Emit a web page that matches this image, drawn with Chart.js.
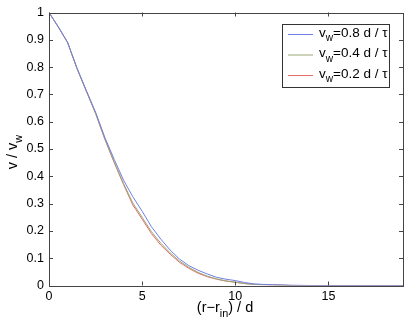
<!DOCTYPE html>
<html>
<head>
<meta charset="utf-8">
<script src="https://cdn.jsdelivr.net/npm/chart.js@4.4.0/dist/chart.umd.min.js"></script>
<style>
  html, body { margin: 0; padding: 0; background: #fff; }
  #wrap { width: 415px; height: 324px; }
</style>
</head>
<body>
<div id="wrap"><canvas id="c" width="415" height="324"></canvas></div>
<script>
// radial distance (r - r_in) / d
const xs = [0, 0.5, 1, 1.5, 2, 2.5, 3, 3.5, 4, 4.5, 5, 5.5, 6, 6.5, 7, 7.5, 8, 8.5, 9, 9.5,
  10, 10.5, 11, 11.5, 12, 12.5, 13, 14, 15, 16, 17, 18, 19];

// v / v_w for each wall velocity
const v08 = [1.0, 0.947, 0.89, 0.797, 0.715, 0.635, 0.542, 0.462, 0.386, 0.325, 0.272, 0.215, 0.17, 0.13,
  0.097, 0.073, 0.056, 0.042, 0.03, 0.023, 0.018, 0.011, 0.006, 0.004, 0.003, 0.002, 0.001, 0, 0, 0, 0, 0, 0];
const v04 = [1.0, 0.947, 0.89, 0.795, 0.713, 0.631, 0.537, 0.452, 0.374, 0.302, 0.25, 0.197, 0.155, 0.12,
  0.09, 0.067, 0.048, 0.034, 0.024, 0.017, 0.012, 0.007, 0.004, 0.003, 0.002, 0.001, 0, 0, 0, 0, 0, 0, 0];
const v02 = [1.0, 0.947, 0.89, 0.795, 0.712, 0.63, 0.535, 0.45, 0.37, 0.295, 0.243, 0.19, 0.148, 0.115,
  0.085, 0.063, 0.045, 0.032, 0.023, 0.016, 0.012, 0.007, 0.004, 0.003, 0.002, 0.001, 0, 0, 0, 0, 0, 0, 0];

const seriesLabels = ['0.8', '0.4', '0.2'];
const seriesColors = ['#6f80e4', '#98a878', '#e36e66'];
const xTicks = [0, 5, 10, 15];
const yTicks = [0, 0.1, 0.2, 0.3, 0.4, 0.5, 0.6, 0.7, 0.8, 0.9, 1];

const FONT = '"Liberation Sans", Arial, sans-serif';

function pts(ys) {
  return xs.map((x, i) => ({ x: x, y: ys[i] }));
}

// draws text with subscript parts, returns width
function subText(ctx, parts, x, y, size, measureOnly) {
  let w = 0;
  parts.forEach(p => {
    const s = p[1] ? size * 0.75 : size;
    ctx.font = s + 'px ' + FONT;
    if (!measureOnly) ctx.fillText(p[0], x + w, y + (p[1] ? size * 0.4 : 0));
    w += ctx.measureText(p[0]).width;
  });
  return w;
}

const extras = {
  id: 'extras',
  afterDatasetsDraw(chart) {
    const ctx = chart.ctx;
    const a = chart.chartArea;
    const sx = chart.scales.x, sy = chart.scales.y;
    ctx.save();
    ctx.strokeStyle = '#444';
    ctx.lineWidth = 1;
    ctx.strokeRect(Math.round(a.left) + 0.5, Math.round(a.top) + 0.5,
      Math.round(a.right - a.left), Math.round(a.bottom - a.top));
    // inward ticks
    ctx.beginPath();
    xTicks.forEach(t => {
      const px = Math.round(sx.getPixelForValue(t)) + 0.5;
      ctx.moveTo(px, a.bottom); ctx.lineTo(px, a.bottom - 4);
      ctx.moveTo(px, a.top); ctx.lineTo(px, a.top + 4);
    });
    yTicks.forEach(t => {
      const py = Math.round(sy.getPixelForValue(t)) + 0.5;
      ctx.moveTo(a.left, py); ctx.lineTo(a.left + 4, py);
      ctx.moveTo(a.right, py); ctx.lineTo(a.right - 4, py);
    });
    ctx.stroke();

    // legend
    ctx.fillStyle = '#fff';
    ctx.fillRect(282.5, 24.5, 107, 63);
    ctx.strokeStyle = '#333';
    ctx.strokeRect(282.5, 24.5, 107, 63);
    ctx.textBaseline = 'middle';
    ctx.textAlign = 'left';
    [34.5, 55, 75.5].forEach((yy, i) => {
      ctx.strokeStyle = seriesColors[i];
      ctx.beginPath();
      ctx.moveTo(288, yy); ctx.lineTo(313, yy);
      ctx.stroke();
      ctx.fillStyle = '#000';
      subText(ctx, [['v', 0], ['w', 1], ['=' + seriesLabels[i] + ' d / \u03c4', 0]], 319, yy - 1.5, 13.5);
    });

    // axis titles
    ctx.fillStyle = '#000';
    ctx.textBaseline = 'middle';
    const xParts = [['(r\u2212r', 0], ['in', 1], [') / d', 0]];
    const xw = subText(ctx, xParts, 0, 0, 14.5, true);
    subText(ctx, xParts, 225 - xw / 2, 308, 14.5);

    const yParts = [['v / v', 0], ['w', 1]];
    const yw = subText(ctx, yParts, 0, 0, 14.5, true);
    ctx.translate(13, 152);
    ctx.rotate(-Math.PI / 2);
    subText(ctx, yParts, -yw / 2, 0, 14.5);
    ctx.restore();
  }
};

new Chart(document.getElementById('c'), {
  type: 'line',
  data: {
    datasets: [
      { label: 'v_w=0.8 d / τ', data: pts(v08), borderColor: seriesColors[0] },
      { label: 'v_w=0.4 d / τ', data: pts(v04), borderColor: seriesColors[1] },
      { label: 'v_w=0.2 d / τ', data: pts(v02), borderColor: seriesColors[2] }
    ]
  },
  options: {
    responsive: false,
    animation: false,
    layout: { padding: { top: 11, right: 12, left: 0, bottom: 0 } },
    elements: {
      point: { radius: 0 },
      line: { borderWidth: 1, tension: 0 }
    },
    plugins: { legend: { display: false }, tooltip: { enabled: false } },
    scales: {
      x: {
        type: 'linear', min: 0, max: 19,
        grid: { display: false, drawTicks: false },
        border: { display: false },
        afterBuildTicks: s => { s.ticks = xTicks.map(v => ({ value: v })); },
        afterFit: s => { s.height = 38.5; },
        ticks: { padding: 4, color: '#000', font: { family: FONT, size: 12.5 }, maxRotation: 0 }
      },
      y: {
        min: 0, max: 1,
        grid: { display: false, drawTicks: false },
        border: { display: false },
        afterBuildTicks: s => { s.ticks = yTicks.map(v => ({ value: v })); },
        afterFit: s => { s.width = 49; },
        ticks: { padding: 5, color: '#000', font: { family: FONT, size: 12.5 },
          callback: v => String(Math.round(v * 10) / 10) }
      }
    }
  },
  plugins: [extras]
});
</script>
</body>
</html>
